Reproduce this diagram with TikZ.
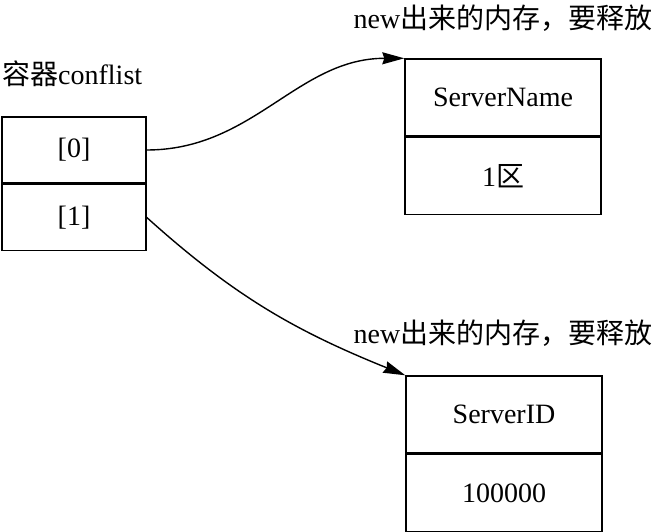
\documentclass[tikz,border=0pt]{standalone}
\usepackage{fontspec}
\setmainfont{Liberation Serif}
\newfontfamily\cjk{Noto Sans CJK SC}
\usetikzlibrary{arrows.meta,positioning}

\begin{document}
\begin{tikzpicture}[x=1pt,y=1pt,font=\fontsize{28}{32}\selectfont]
    \tikzset{cell/.style={draw,line width=1.4pt,minimum height=66pt,minimum width=144pt,inner sep=0pt},
      rec/.style={draw,line width=1.4pt,minimum height=77pt,minimum width=196pt,inner sep=0pt},
      ptr/.style={line width=1.4pt,-{Stealth[length=22pt,width=12pt,inset=2pt]}}}
    \useasboundingbox (0,0) rectangle (653,-532);
    % container
    \node[anchor=west,inner sep=0pt] (title) at (2,-74) {{\cjk 容器}conflist};
    \node[cell] (slot0) at (74,-150) {[0]};
    \node[cell,below=0pt of slot0] (slot1) {[1]};
    % first object
    \node[rec] (name) at (503,-97.5) {ServerName};
    \node[rec,below=0pt of name] (zone) {1{\cjk 区}};
    \node[inner sep=0pt] (note1) at (503,-18) {new{\cjk 出来的内存，要释放}};
    % second object
    \node[rec] (id) at (504,-414.5) {ServerID};
    \node[rec,below=0pt of id] (num) {100000};
    \node[inner sep=0pt] (note2) at (503,-333) {new{\cjk 出来的内存，要释放}};
    % pointers
    \draw[ptr] (slot0.east) to[out=0,in=180] (name.north west);
    \draw[ptr] (slot1.east) to[out=-42,in=158] (id.north west);
  \end{tikzpicture}
\end{document}
